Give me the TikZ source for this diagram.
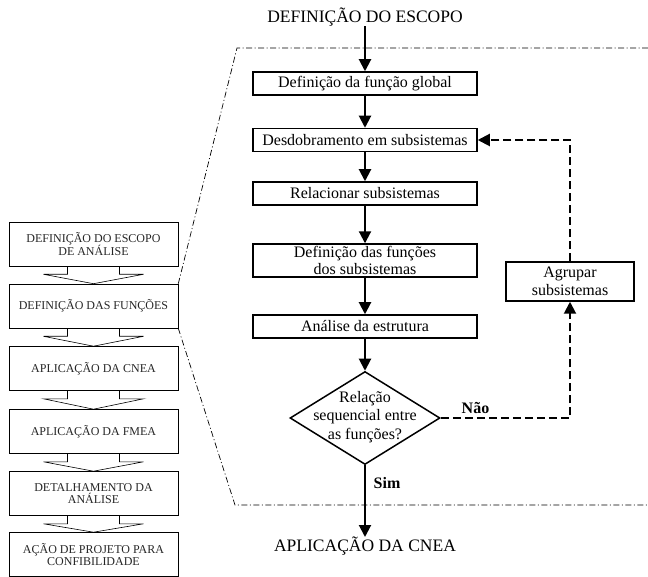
\documentclass[tikz,border=0pt]{standalone}
\usepackage{fontspec}
\setmainfont{Liberation Serif}
\usetikzlibrary{arrows.meta,shapes.geometric,positioning,calc}

\tikzset{
	etapa/.style={draw,line width=0.6pt,minimum width=169pt,minimum height=44pt,align=center,text=black!85,font=\fontsize{12}{12.5}\selectfont},
	caixa/.style={draw,line width=1.5pt,minimum width=224pt,minimum height=23pt,inner sep=2pt,align=center,font=\fontsize{16}{17.5}\selectfont},
	losango/.style={draw,diamond,line width=1.5pt,minimum width=150pt,minimum height=93pt,inner sep=0pt,font=\fontsize{16}{19.5}\selectfont},
	titulo/.style={inner sep=0pt,font=\fontsize{17.5}{20}\selectfont},
	rotulo/.style={inner sep=0pt,font=\fontsize{16}{18}\selectfont\bfseries},
	seta/.style={line width=2pt,-{Triangle[length=12pt,width=12pt]}},
	volta/.style={seta,dash pattern=on 8pt off 4pt},
	moldura/.style={line width=0.7pt,dash pattern=on 6pt off 2.5pt on 1pt off 2.5pt},
}

\begin{document}
\begin{tikzpicture}[x=1pt,y=-1pt]
	\useasboundingbox (0,0) rectangle (648,577);
	% etapas do metodo
	\node[etapa] (e1) at (93.5,244) {DEFINIÇÃO DO ESCOPO\\DE ANÁLISE};
	\node[etapa] (e2) at (93.5,306) {DEFINIÇÃO DAS FUNÇÕES};
	\node[etapa] (e3) at (93.5,368.5) {APLICAÇÃO DA CNEA};
	\node[etapa] (e4) at (93.5,431.5) {APLICAÇÃO DA FMEA};
	\node[etapa] (e5) at (93.5,493.5) {DETALHAMENTO DA\\ANÁLISE};
	\node[etapa] (e6) at (93.5,554.5) {AÇÃO DE PROJETO PARA\\CONFIBILIDADE};
	\foreach \a/\b in {e1/e2,e2/e3,e3/e4,e4/e5,e5/e6}
		\draw[line width=0.6pt] ($(\a.south)+(-26,0)$) -- ++(0,8) -- ++(-24,0) -- (\b.north)
			-- ($(\a.south)+(50,8)$) -- ++(-24,0) -- ++(0,-8);
	% detalhe da definicao das funcoes
	\node[titulo] (ini) at (365,17) {DEFINIÇÃO DO ESCOPO};
	\node[caixa] (b1) at (365,83.5) {Definição da função global};
	\node[caixa] (b2) at (365,140) {Desdobramento em subsistemas};
	\node[caixa] (b3) at (365,193.5) {Relacionar subsistemas};
	\node[caixa] (b4) at (365,260.5) {Definição das funções\\dos subsistemas};
	\node[caixa] (b5) at (365,326.5) {Análise da estrutura};
	\node[losango] (dec) at (365,418) {\smash{\makebox[0pt]{\raisebox{-3pt}{\begin{tabular}{@{}c@{}}Relação\\[-1pt]sequencial entre\\[-1pt]as funções?\end{tabular}}}}};
	\node[caixa,minimum width=128pt,minimum height=39pt] (agr) at (570,281.5) {Agrupar\\subsistemas};
	\node[titulo,anchor=north] (fim) at (365,537) {APLICAÇÃO DA CNEA};
	\draw[seta] (ini) -- (b1);
	\draw[seta] (b1) -- (b2);
	\draw[seta] (b2) -- (b3);
	\draw[seta] (b3) -- (b4);
	\draw[seta] (b4) -- (b5);
	\draw[seta] (b5) -- (dec);
	\draw[seta] (dec) -- (fim);
	\draw[volta] (dec.east) -| (agr.south);
	\draw[volta] (agr.north) |- (b2.east);
	\node[rotulo] (nao) at (475.5,408) {Não};
	\node[rotulo] (sim) at (387,483) {Sim};
	% moldura
	\coordinate (m1) at (648,48);
	\coordinate (m2) at (237,48);
	\coordinate (m3) at (235,505);
	\coordinate (m4) at (648,505);
	\draw[moldura] (m1) -- (m2) -- (e2.north east);
	\draw[moldura] (e2.south east) -- (m3) -- (m4);
\end{tikzpicture}
\end{document}
